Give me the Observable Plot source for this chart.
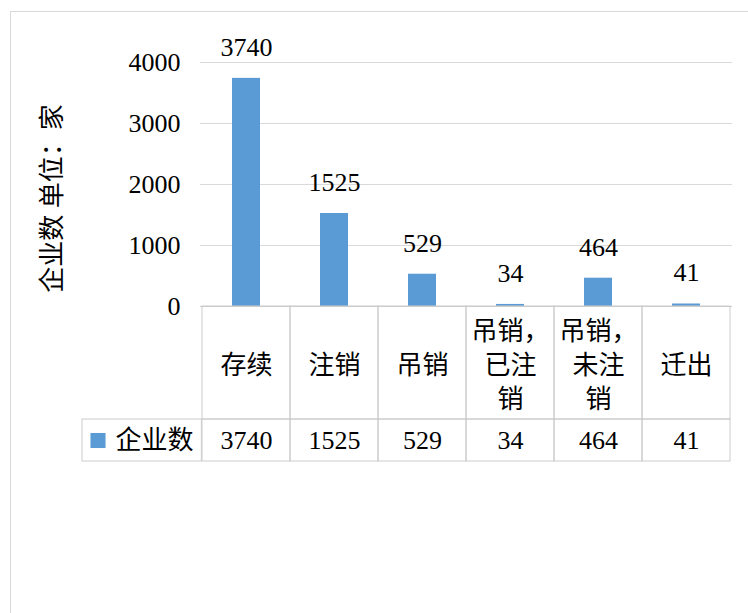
<!DOCTYPE html>
<html>
<head>
<meta charset="utf-8">
<script src="https://cdn.jsdelivr.net/npm/d3@7"></script>
<script src="https://cdn.jsdelivr.net/npm/@observablehq/plot@0.6"></script>
<style>
  body { margin: 0; background: #fff; }
  #chart svg { display: block; }
</style>
</head>
<body>
<div id="chart"></div>
<script>
// Enterprise counts by registration status
const categories = ["存续", "注销", "吊销", "吊销，\n已注\n销", "吊销，\n未注\n销", "迁出"];
const counts = [3740, 1525, 529, 34, 464, 41];
const seriesName = "企业数";
const yTicks = [0, 1000, 2000, 3000, 4000];
const yTitle = "企业数 单位：家";

const rows = categories.map((category, i) => ({category, count: counts[i]}));

const ink = "#000";
const grid = "#d9d9d9";
const tableLine = "#cccccc";
const barColor = "#5b9bd5";
const zero = () => 0;

// Data table geometry (pixels below the value axis baseline)
const headRow = 113;   // category row height
const valueRow = 42;   // value row height
const legendCell = 120;

const chart = Plot.plot({
  width: 748,
  height: 613,
  marginLeft: 200,
  marginRight: 16,
  marginTop: 62,
  marginBottom: 307,
  style: {
    fontFamily: '"Liberation Serif", "Noto Sans CJK SC", serif',
    fontSize: "26px",
    color: ink,
    background: "#fff"
  },
  x: {domain: categories, padding: 0, axis: null},
  y: {domain: [0, 4000], axis: null},
  marks: [
    // outer chart border
    Plot.frame({stroke: grid, insetLeft: -190, insetTop: -51, insetRight: -40, insetBottom: -340}),
    // gridlines
    Plot.ruleY(yTicks.filter(d => d > 0), {stroke: grid}),
    Plot.axisY(yTicks, {
      tickSize: 0,
      tickPadding: 20,
      tickFormat: d => String(d),
      fontSize: 26,
      fill: ink,
      label: null
    }),
    // vertical axis title
    Plot.text([yTitle], {frameAnchor: "left", text: d => d, rotate: -90, textAnchor: "middle", dx: -148, dy: 14, fill: ink, fontSize: 26}),
    // columns and their value labels
    Plot.barY(rows, {x: "category", y: "count", fill: barColor, insetLeft: 30, insetRight: 30}),
    Plot.text(rows, {x: "category", y: "count", text: d => String(d.count), dy: -31, fill: ink}),
    // data table: category row
    Plot.barY(rows, {x: "category", y1: zero, y2: zero, insetBottom: -headRow, fill: "none", stroke: tableLine}),
    Plot.text(rows, {x: "category", y: zero, text: "category", dy: headRow / 2, lineHeight: 1.3, fill: ink}),
    // data table: value row
    Plot.barY(rows, {x: "category", y1: zero, y2: zero, insetTop: headRow, insetBottom: -(headRow + valueRow), fill: "none", stroke: tableLine}),
    Plot.barY(rows.slice(0, 1), {x: "category", y1: zero, y2: zero, insetTop: headRow, insetBottom: -(headRow + valueRow), insetLeft: -legendCell, insetRight: 532 / 6, fill: "none", stroke: tableLine}),
    Plot.text(rows, {x: "category", y: zero, text: d => String(d.count), dy: headRow + valueRow / 2, fill: ink}),
    // legend key inside the table
    Plot.dot([seriesName], {frameAnchor: "left", y: zero, dx: -102.5, dy: headRow + valueRow / 2, symbol: "square", r: 8.5, fill: barColor, stroke: "none"}),
    Plot.text([seriesName], {frameAnchor: "left", y: zero, text: d => d, textAnchor: "end", dx: -7, dy: headRow + valueRow / 2, fill: ink}),
    // axis baseline
    Plot.ruleY([0], {stroke: tableLine})
  ]
});

document.getElementById("chart").append(chart);
</script>
</body>
</html>
